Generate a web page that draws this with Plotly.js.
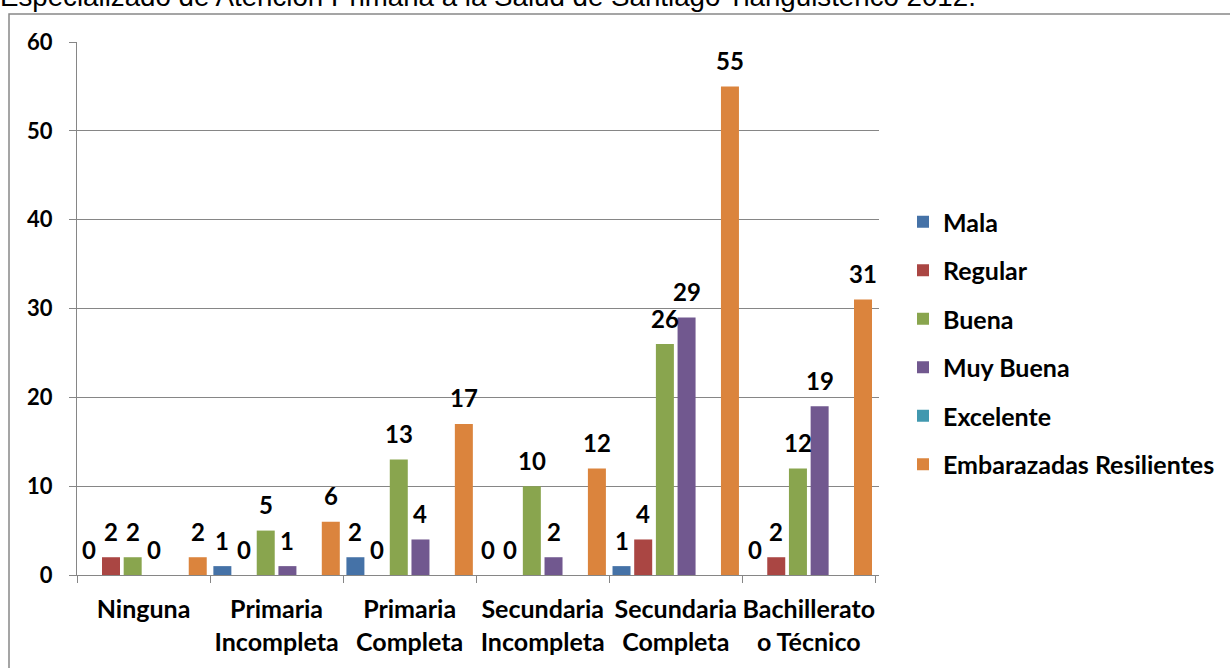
<!DOCTYPE html>
<html>
<head>
<meta charset="utf-8">
<script src="https://cdn.plot.ly/plotly-3.0.1.min.js"></script>
<style>
html,body{margin:0;padding:0;background:#fff;}
#chart{width:1230px;height:668px;}
</style>
</head>
<body>
<div id="chart"></div>
<script>
const categories = ["Ninguna", "Primaria<br>Incompleta", "Primaria<br>Completa", "Secundaria<br>Incompleta", "Secundaria<br>Completa", "Bachillerato<br>o Técnico"];
const mala        = [0, 1, 2, 0, 1, 0];
const regular     = [2, 0, 0, 0, 4, 2];
const buena       = [2, 5, 13, 10, 26, 12];
const muyBuena    = [0, 1, 4, 2, 29, 19];
const excelente   = [null, null, null, null, null, null];
const embarazadas = [2, 6, 17, 12, 55, 31];
const seriesNames = ["Mala", "Regular", "Buena", "Muy Buena", "Excelente", "Embarazadas Resilientes"];
const yTicks = [0, 10, 20, 30, 40, 50, 60];
const titleText = "Especializado de Atención Primaria a la Salud de Santiago Tianguistenco 2012.";

const seriesValues = [mala, regular, buena, muyBuena, excelente, embarazadas];
const colors = ["#4572A7", "#AA4643", "#89A54E", "#71588F", "#4198AF", "#DB843D"];
const FONT = "Lato, 'Open Sans', sans-serif";
const BARGAP = 0.022;

const traces = seriesValues.map((vals, i) => ({
  type: "bar",
  name: seriesNames[i],
  x: categories,
  y: vals,
  legendgroup: "g" + i,
  marker: {color: colors[i], line: {width: 0}},
  hoverinfo: "skip"
}));

// data labels placed at each bar's position on the category scale
const nS = seriesValues.length;
const slot = (1 - BARGAP) / nS;
const labelAnns = [];
seriesValues.forEach((vals, s) => {
  const off = -(1 - BARGAP) / 2 + (s + 0.5) * slot;
  vals.forEach((v, c) => {
    if (v === null) return;
    labelAnns.push({
      xref: "x", yref: "y",
      x: c + off, y: v,
      text: String(v),
      showarrow: false,
      xanchor: "center", yanchor: "middle",
      yshift: 26,
      font: {family: FONT, size: 24, color: "#000", weight: "bold"}
    });
  });
});

// plot area in px: x 77..879, y 42..575
const L = 77, R = 879, T = 42, B = 575;
const px2x = p => (p - L) / (R - L);
const py2y = p => (B - p) / (B - T);

const layout = {
  width: 1230, height: 668,
  margin: {l: L, r: 1230 - R, t: T, b: 668 - B, autoexpand: false},
  paper_bgcolor: "#fff", plot_bgcolor: "#fff",
  barmode: "group",
  bargap: BARGAP,
  bargroupgap: 0.17,
  showlegend: true,
  font: {family: FONT, color: "#000"},
  xaxis: {
    type: "category",
    showgrid: false,
    showline: true, linecolor: "#868686", linewidth: 1,
    ticks: "outside", tickson: "boundaries", ticklen: 7, tickcolor: "#868686",
    tickfont: {family: FONT, size: 25, color: "#000", weight: "bold"},
    tickangle: 0,
    automargin: false,
    ticklabelstandoff: 12,
    fixedrange: true
  },
  yaxis: {
    range: [0, 60],
    tickvals: yTicks,
    showgrid: true, gridcolor: "#868686", gridwidth: 1,
    showline: true, linecolor: "#868686", linewidth: 1,
    ticks: "outside", ticklen: 7, tickcolor: "#868686",
    tickfont: {family: FONT, size: 22, color: "#000", weight: "bold"},
    ticklabelstandoff: 12,
    automargin: false,
    zeroline: false,
    fixedrange: true
  },
  legend: {
    x: px2x(903), xanchor: "left",
    y: py2y(199), yanchor: "top",
    traceorder: "grouped",
    tracegroupgap: 13,
    font: {family: FONT, size: 25, color: "#000", weight: "bold"},
    bgcolor: "rgba(0,0,0,0)",
    itemclick: false, itemdoubleclick: false
  },
  annotations: [{
    text: titleText,
    xref: "paper", yref: "paper",
    x: px2x(-2), xanchor: "left",
    y: py2y(14), yanchor: "bottom",
    showarrow: false,
    font: {family: "'Liberation Sans', Arial, sans-serif", size: 27.7, color: "#000"}
  }].concat(labelAnns),
  shapes: [{
    type: "rect", xref: "paper", yref: "paper",
    x0: px2x(9), x1: px2x(1240),
    y0: py2y(680), y1: py2y(14),
    line: {color: "#888888", width: 1.5},
    fillcolor: "rgba(0,0,0,0)",
    layer: "below"
  }]
};

Plotly.newPlot("chart", traces, layout, {displayModeBar: false, staticPlot: true});
</script>
</body>
</html>
